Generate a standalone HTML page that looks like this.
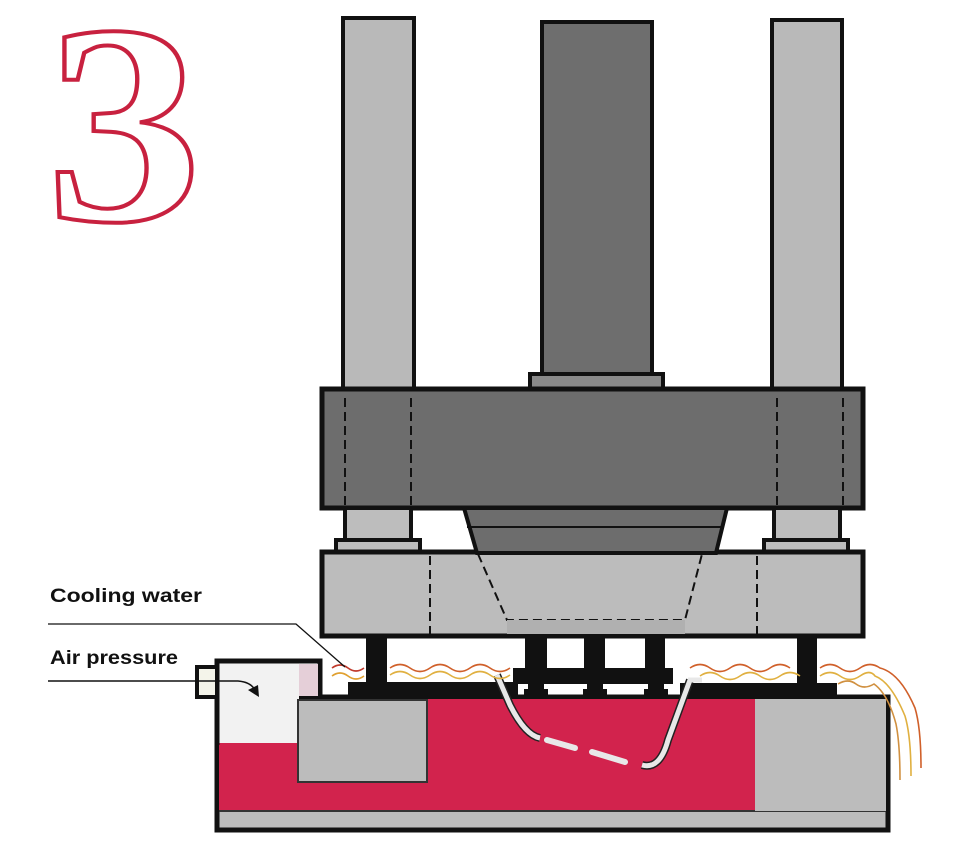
<!DOCTYPE html>
<html><head><meta charset="utf-8"><style>
html,body{margin:0;padding:0;background:#fff;}
svg{display:block;}
</style></head><body>
<svg width="980" height="866" viewBox="0 0 980 866" xmlns="http://www.w3.org/2000/svg">
<rect width="980" height="866" fill="#fff"/>
<!-- big 3 -->
<text x="46" y="220" font-family="Liberation Serif, serif" font-weight="bold" font-size="285" fill="#fff" stroke="#c8213f" stroke-width="4" textLength="156" lengthAdjust="spacingAndGlyphs">3</text>

<!-- columns -->
<rect x="343" y="18" width="71" height="372" fill="#b9b9b9" stroke="#111" stroke-width="4"/>
<rect x="772" y="20" width="70" height="370" fill="#b9b9b9" stroke="#111" stroke-width="4"/>
<rect x="542" y="22" width="110" height="360" fill="#6e6e6e" stroke="#111" stroke-width="4"/>
<rect x="530" y="374" width="133" height="18" fill="#8a8a8a" stroke="#111" stroke-width="4"/>

<!-- upper crossbeam -->
<rect x="322" y="389" width="541" height="119" fill="#6d6d6d" stroke="#111" stroke-width="5"/>
<g stroke="#111" stroke-width="2" stroke-dasharray="9,5">
<line x1="345" y1="398" x2="345" y2="505"/><line x1="411" y1="398" x2="411" y2="505"/>
<line x1="777" y1="398" x2="777" y2="505"/><line x1="843" y1="398" x2="843" y2="505"/>
</g>

<!-- lower short columns -->
<rect x="345" y="508" width="66" height="34" fill="#bdbdbd" stroke="#111" stroke-width="4"/>
<rect x="336" y="540" width="84" height="14" fill="#bdbdbd" stroke="#111" stroke-width="4"/>
<rect x="774" y="508" width="66" height="34" fill="#bdbdbd" stroke="#111" stroke-width="4"/>
<rect x="764" y="540" width="84" height="14" fill="#bdbdbd" stroke="#111" stroke-width="4"/>

<!-- lower block -->
<rect x="322" y="552" width="541" height="84" fill="#bcbcbc" stroke="#111" stroke-width="5"/>
<!-- cone -->
<polygon points="464,508 727,508 716,553 477,553" fill="#6d6d6d" stroke="#111" stroke-width="4"/>
<line x1="467" y1="527" x2="724" y2="527" stroke="#111" stroke-width="2"/>
<g stroke="#111" stroke-width="2" stroke-dasharray="9,5" fill="none">
<line x1="430" y1="556" x2="430" y2="634"/><line x1="757" y1="556" x2="757" y2="634"/>
<polyline points="478,554 507,620 685,620 702,554"/>
</g>
<rect x="507" y="620" width="178" height="14" fill="#b0b0b0"/>

<!-- pool box -->
<rect x="217" y="697" width="671" height="133" fill="#bcbcbc" stroke="#111" stroke-width="5"/>
<rect x="219" y="699" width="536" height="112" fill="#d2234d"/>
<line x1="219" y1="811" x2="886" y2="811" stroke="#333" stroke-width="2"/>
<!-- air chamber -->
<rect x="219" y="661" width="80" height="82" fill="#f2f2f2"/>
<polyline points="217,745 217,661 320,661 320,697" fill="none" stroke="#111" stroke-width="5"/>
<rect x="197" y="667" width="20" height="30" fill="#f4f4ea" stroke="#111" stroke-width="4"/>
<rect x="299" y="664" width="19" height="32" fill="#e5cfd8"/>
<rect x="298" y="700" width="129" height="82" fill="#bcbcbc" stroke="#333" stroke-width="2"/>
<rect x="755" y="699" width="131" height="112" fill="#bcbcbc"/>

<!-- legs and plates -->
<rect x="366" y="635" width="21" height="50" fill="#111"/>
<rect x="348" y="682" width="170" height="16" fill="#111"/>
<rect x="513" y="668" width="160" height="16" fill="#111"/>
<rect x="525" y="635" width="22" height="38" fill="#111"/>
<rect x="584" y="635" width="21" height="38" fill="#111"/>
<rect x="645" y="635" width="20" height="38" fill="#111"/>
<g fill="#111">
<rect x="528" y="682" width="16" height="8"/><rect x="524" y="689" width="24" height="6"/>
<rect x="587" y="682" width="16" height="8"/><rect x="583" y="689" width="24" height="6"/>
<rect x="648" y="682" width="16" height="8"/><rect x="644" y="689" width="24" height="6"/>
</g>
<rect x="797" y="635" width="20" height="50" fill="#111"/>
<rect x="680" y="683" width="157" height="15" fill="#111"/>

<!-- white pipe -->
<path d="M497,675 L510,705 Q525,735 540,738" fill="none" stroke="#222" stroke-width="8"/>
<path d="M497,675 L510,705 Q525,735 540,738" fill="none" stroke="#e8e8e8" stroke-width="5"/>
<g stroke="#e8e8e8" stroke-width="6" stroke-linecap="round">
<line x1="547" y1="740" x2="575" y2="748"/><line x1="592" y1="752" x2="625" y2="762"/>
</g>
<path d="M642,765 Q660,770 668,740 L690,680" fill="none" stroke="#222" stroke-width="8"/>
<path d="M642,765 Q660,770 668,740 L690,680 L702,680" fill="none" stroke="#e8e8e8" stroke-width="5"/>

<!-- water waves -->
<g fill="none" stroke-width="1.6">
<path d="M332,668 q8,-6 16,0 t16,0" stroke="#c0392b"/>
<path d="M332,676 q8,-6 16,0 t16,0" stroke="#e0a030"/>
<path d="M390,668 q10,-7 20,0 t20,0 t20,0 t20,0 t20,0 t20,0" stroke="#d0602a"/>
<path d="M390,675 q10,-7 20,0 t20,0 t20,0 t20,0 t20,0 t20,0" stroke="#e0b040"/>
<path d="M690,668 q10,-7 20,0 t20,0 t20,0 t20,0 t20,0" stroke="#d0602a"/>
<path d="M700,676 q10,-7 20,0 t20,0 t20,0 t20,0 t20,0" stroke="#e0b040"/>
<path d="M820,668 q10,-7 20,0 t20,0 t20,0 q20,5 35,40 q6,20 6,60" stroke="#d0602a"/>
<path d="M820,676 q10,-7 20,0 t20,0 t15,0 q16,6 30,40 q6,20 6,60" stroke="#e0b040"/>
<path d="M838,684 q10,-6 18,0 t18,0 q14,10 22,40 q4,20 4,56" stroke="#d09040"/>
</g>

<!-- labels -->
<text x="50" y="602" font-family="Liberation Sans, sans-serif" font-weight="bold" font-size="19" fill="#111" textLength="152" lengthAdjust="spacingAndGlyphs">Cooling water</text>
<text x="50" y="664" font-family="Liberation Sans, sans-serif" font-weight="bold" font-size="19" fill="#111" textLength="128" lengthAdjust="spacingAndGlyphs">Air pressure</text>
<polyline points="48,624 296,624 345,667" fill="none" stroke="#111" stroke-width="1.3"/>
<path d="M48,681 L238,681 Q252,682 256,692" fill="none" stroke="#111" stroke-width="1.5"/>
<polygon points="259,697 248,690 258,685" fill="#111"/>
</svg>
</body></html>
